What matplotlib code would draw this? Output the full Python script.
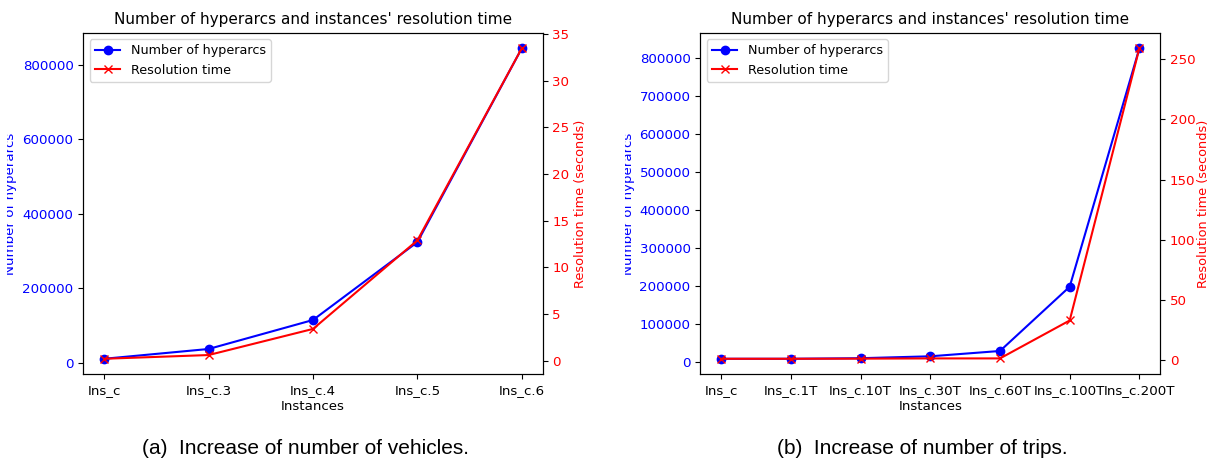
import matplotlib
matplotlib.use('Agg')
import matplotlib.pyplot as plt
from matplotlib.transforms import Bbox

# (a) increase of number of vehicles
inst_a = ['Ins_c', 'Ins_c.3', 'Ins_c.4', 'Ins_c.5', 'Ins_c.6']
arcs_a = [10500, 36800, 114700, 324000, 845000]
time_a = [0.2, 0.6, 3.4, 12.9, 33.5]

# (b) increase of number of trips
inst_b = ['Ins_c', 'Ins_c.1T', 'Ins_c.10T', 'Ins_c.30T', 'Ins_c.60T', 'Ins_c.100T', 'Ins_c.200T']
arcs_b = [8500, 8500, 10000, 15000, 29000, 198000, 825000]
time_b = [1.2, 1.2, 1.3, 1.5, 1.5, 33, 259]

title = "Number of hyperarcs and instances' resolution time"
captions = ['Increase of number of vehicles.', 'Increase of number of trips.']

W, H = 1215, 462
fig = plt.figure(figsize=(W / 100, H / 100), dpi=100)


def rect_px(x0, x1, y0, y1):
    return [x0 / W, 1 - y1 / H, (x1 - x0) / W, (y1 - y0) / H]


def make_panel(x0, x1, inst, arcs, times, left_lab_x, clip_x, right_lab_x):
    y0, y1 = 32.7, 374.3
    ax = fig.add_axes(rect_px(x0, x1, y0, y1))
    l1, = ax.plot(inst, arcs, color='blue', marker='o', label='Number of hyperarcs')
    ax.set_xlabel('Instances', fontsize=9.6, labelpad=2)
    ax.set_ylabel('Number of hyperarcs', color='blue', fontsize=9.6)
    ax.tick_params(axis='y', labelcolor='blue', labelsize=9.6)
    ax.tick_params(axis='x', labelsize=9.6)
    ax.set_title(title, fontsize=11, pad=6)

    ax2 = ax.twinx()
    l2, = ax2.plot(inst, times, color='red', marker='x', label='Resolution time')
    ax2.set_ylabel('Resolution time (seconds)', color='red', fontsize=9.3)
    ax2.tick_params(axis='y', labelcolor='red', labelsize=9.6)

    ax.legend(handles=[l1, l2], loc='upper left', fontsize=9.2)

    w = x1 - x0
    ax.yaxis.set_label_coords((left_lab_x - x0) / w, 0.5)
    ax2.yaxis.set_label_coords((right_lab_x - x0) / w, 0.5)
    # the left label is cut by the edge of the sub-figure in the reference
    lab = ax.yaxis.label
    lab.set_clip_on(True)
    lab.set_clip_box(Bbox.from_extents(clip_x, 0, W, H))
    return ax, ax2


make_panel(83.3, 542.7, inst_a, arcs_a, time_a, 17, 7, 574)
make_panel(700.3, 1160.3, inst_b, arcs_b, time_b, 635, 625, 1197)

for cx, tag, cap in [(306, '(a)', captions[0]), (922, '(b)', captions[1])]:
    fig.text(cx / W, 1 - 448 / H, tag + '  ' + cap, ha='center', va='center',
             fontsize=15, family='Liberation Sans')

fig.savefig('out.png', dpi=100)
